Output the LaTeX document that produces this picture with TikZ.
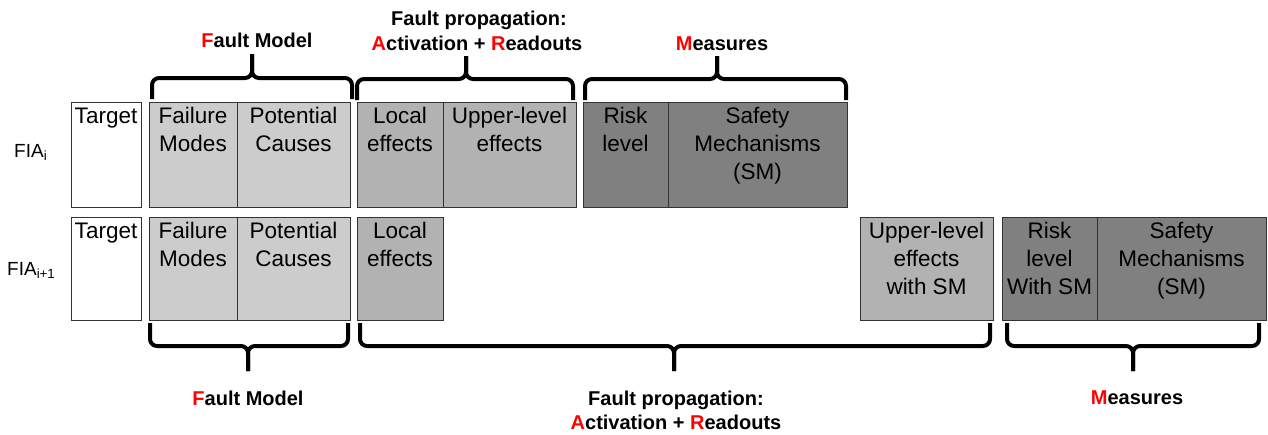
\documentclass[tikz,border=0pt]{standalone}
\usepackage{fontspec}
\setmainfont{Liberation Sans}
\definecolor{lightg}{HTML}{CCCCCC}
\definecolor{midg}{HTML}{B2B2B2}
\definecolor{darkg}{HTML}{808080}
\definecolor{redF}{HTML}{FF0000}
\newcommand{\rl}[1]{\textcolor{redF}{#1}}
\begin{document}
\begin{tikzpicture}[x=1pt,y=-1pt,
  cell/.style={draw=black!80, line width=1pt, inner sep=0pt, outer sep=0pt, anchor=north west},
  lbl/.style={anchor=base, inner sep=0pt, font=\fontsize{22.5}{28}\selectfont},
  head/.style={anchor=base, inner sep=0pt, font=\fontsize{20}{24.5}\selectfont\bfseries},
  fia/.style={anchor=base west, inner sep=0pt, font=\fontsize{19}{23}\selectfont},
  bracepath/.style={line width=4pt, rounded corners=7pt, line cap=butt, line join=round}]
\useasboundingbox[fill=white] (0,0) rectangle (1268,434);

% ---- Row 1 cells ----
\node[cell, fill=white, minimum width=70pt, minimum height=105pt] (tgt1) at (71,102) {};
\node[cell, fill=lightg, minimum width=88pt, minimum height=105pt] (fm1) at (149,102) {};
\node[cell, fill=lightg, minimum width=113pt, minimum height=105pt] (pc1) at (237,102) {};
\node[cell, fill=midg, minimum width=86pt, minimum height=105pt] (le1) at (357,102) {};
\node[cell, fill=midg, minimum width=133pt, minimum height=105pt] (ue1) at (443,102) {};
\node[cell, fill=darkg, minimum width=85pt, minimum height=105pt] (rl1) at (583,102) {};
\node[cell, fill=darkg, minimum width=179pt, minimum height=105pt] (sm1) at (668,102) {};

% ---- Row 2 cells ----
\node[cell, fill=white, minimum width=70pt, minimum height=103pt] (tgt2) at (71,217) {};
\node[cell, fill=lightg, minimum width=88pt, minimum height=103pt] (fm2) at (149,217) {};
\node[cell, fill=lightg, minimum width=113pt, minimum height=103pt] (pc2) at (237,217) {};
\node[cell, fill=midg, minimum width=86pt, minimum height=103pt] (le2) at (357,217) {};
\node[cell, fill=midg, minimum width=133pt, minimum height=103pt] (ue2) at (860,217) {};
\node[cell, fill=darkg, minimum width=95pt, minimum height=103pt] (rl2) at (1002,217) {};
\node[cell, fill=darkg, minimum width=169pt, minimum height=103pt] (sm2) at (1097,217) {};

% ---- Row 1 texts ----
\node[lbl] (ttgt1) at (106,123) {\parbox[t]{80pt}{\centering Target}};
\node[lbl] (tfm1) at (193,123) {\parbox[t]{90pt}{\centering Failure\\Modes}};
\node[lbl] (tpc1) at (293.5,123) {\parbox[t]{110pt}{\centering Potential\\Causes}};
\node[lbl] (tle1) at (400,123) {\parbox[t]{90pt}{\centering Local\\effects}};
\node[lbl] (tue1) at (509.5,123) {\parbox[t]{130pt}{\centering Upper-level\\effects}};
\node[lbl] (trl1) at (625.5,123) {\parbox[t]{90pt}{\centering Risk\\level}};
\node[lbl] (tsm1) at (757.5,123) {\parbox[t]{170pt}{\centering Safety\\Mechanisms\\(SM)}};

% ---- Row 2 texts ----
\node[lbl] (ttgt2) at (106,238) {\parbox[t]{80pt}{\centering Target}};
\node[lbl] (tfm2) at (193,238) {\parbox[t]{90pt}{\centering Failure\\Modes}};
\node[lbl] (tpc2) at (293.5,238) {\parbox[t]{110pt}{\centering Potential\\Causes}};
\node[lbl] (tle2) at (400,238) {\parbox[t]{90pt}{\centering Local\\effects}};
\node[lbl] (tue2) at (926.5,238) {\parbox[t]{130pt}{\centering Upper-level\\effects\\with SM}};
\node[lbl] (trl2) at (1049.5,238) {\parbox[t]{100pt}{\centering Risk\\level\\With SM}};
\node[lbl] (tsm2) at (1181.5,238) {\parbox[t]{165pt}{\centering Safety\\Mechanisms\\(SM)}};

% ---- Row labels ----
\node[fia] (fiai) at (14,157) {FIA\textsubscript{i}};
\node[fia] (fiaj) at (7,275) {FIA\textsubscript{i+1}};

% ---- Top braces ----
\draw[bracepath] (152,99) -- (152,78) -- (252,78) -- (252,54);
\draw[bracepath] (352,99) -- (352,78) -- (252,78) -- (252,54);
\draw[bracepath] (357,100) -- (357,79) -- (466,79) -- (466,56);
\draw[bracepath] (573,100) -- (573,79) -- (466,79) -- (466,56);
\draw[bracepath] (585,100) -- (585,79) -- (717,79) -- (717,56);
\draw[bracepath] (846,100) -- (846,79) -- (717,79) -- (717,56);

% ---- Bottom braces ----
\draw[bracepath] (150,323) -- (150,346) -- (248,346) -- (248,371);
\draw[bracepath] (348,323) -- (348,346) -- (248,346) -- (248,371);
\draw[bracepath] (360,323) -- (360,346) -- (674,346) -- (674,371);
\draw[bracepath] (990,323) -- (990,346) -- (674,346) -- (674,371);
\draw[bracepath] (1007,323) -- (1007,346) -- (1133,346) -- (1133,371);
\draw[bracepath] (1259,323) -- (1259,346) -- (1133,346) -- (1133,371);

% ---- Top headings ----
\node[head] (hfm1) at (257,47) {\rl{F}ault Model};
\node[head] (hfp1a) at (479,25) {Fault propagation:};
\node[head] (hfp1b) at (477,50) {\rl{A}ctivation + \rl{R}eadouts};
\node[head] (hms1) at (722,50) {\rl{M}easures};

% ---- Bottom headings ----
\node[head] (hfm2) at (248,405) {\rl{F}ault Model};
\node[head] (hfp2a) at (676,405) {Fault propagation:};
\node[head] (hfp2b) at (676,429) {\rl{A}ctivation + \rl{R}eadouts};
\node[head] (hms2) at (1137,404) {\rl{M}easures};
\end{tikzpicture}
\end{document}
